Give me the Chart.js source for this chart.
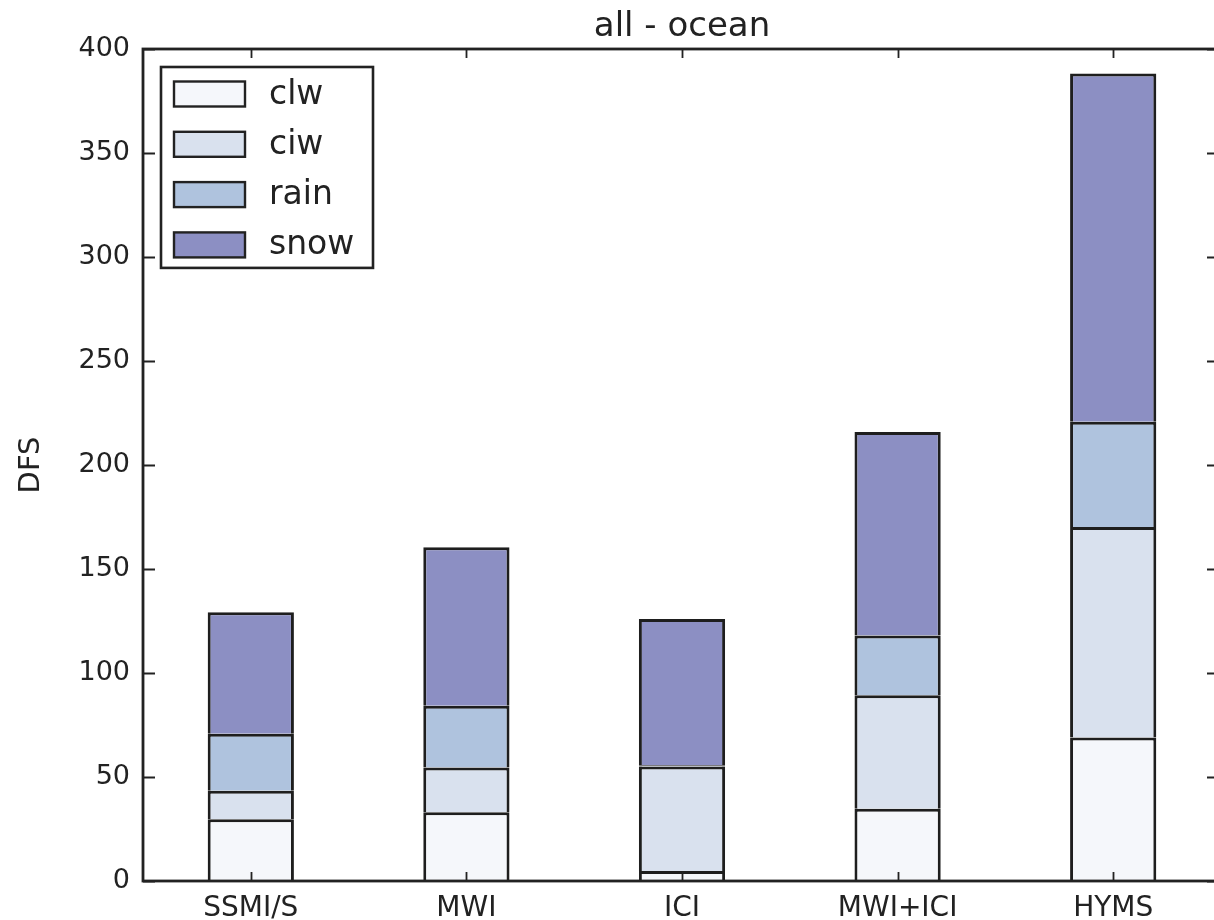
<!DOCTYPE html>
<html>
<head>
<meta charset="utf-8">
<script src="https://cdn.jsdelivr.net/npm/chart.js@4"></script>
<style>
  html, body { margin: 0; padding: 0; background: #ffffff; overflow: hidden; }
  #wrap { width: 1230px; height: 920px; }
</style>
</head>
<body>
<div id="wrap"><canvas id="c" width="1230" height="920"></canvas></div>
<script>
// Degrees of freedom for signal, per hydrometeor type, ocean scenes
const instruments = ['SSMI/S', 'MWI', 'ICI', 'MWI+ICI', 'HYMS'];
const clw  = [29.7, 33.1, 4.8, 34.7, 69.0];
const ciw  = [13.7, 21.5, 50.2, 54.6, 101.2];
const rain = [27.4, 29.7, 0.6, 28.7, 50.6];
const snow = [58.4, 76.1, 70.4, 97.9, 167.4];
const seriesNames = ['clw', 'ciw', 'rain', 'snow'];
const seriesColors = ['#f5f7fb', '#d9e1ee', '#afc3de', '#8c8fc3'];
const yMin = 0, yMax = 400, yStep = 50;
const chartTitle = 'all - ocean';
const yTitle = 'DFS';

const FONT = "'DejaVu Sans', sans-serif";
const INK = '#222222';

// Title centred over the plot frame
const frameTitle = {
  id: 'frameTitle',
  afterDraw(chart) {
    const { ctx, chartArea: a } = chart;
    ctx.save();
    ctx.fillStyle = INK;
    ctx.font = '34px ' + FONT;
    ctx.textAlign = 'center';
    ctx.textBaseline = 'alphabetic';
    ctx.fillText(chartTitle, (a.left + a.right) / 2, a.top - 13);
    ctx.restore();
  }
};

// Box frame with inward ticks on all four sides
const frameTicks = {
  id: 'frameTicks',
  afterDatasetsDraw(chart) {
    const { ctx, chartArea: a, scales } = chart;
    ctx.save();
    ctx.strokeStyle = INK;
    ctx.lineWidth = 1.8;
    ctx.beginPath();
    scales.y.ticks.forEach(t => {
      const y = Math.round(scales.y.getPixelForValue(t.value)) + 0.5;
      ctx.moveTo(a.left, y); ctx.lineTo(a.left + 12, y);
      ctx.moveTo(a.right, y); ctx.lineTo(a.right - 14, y);
    });
    instruments.forEach((_, i) => {
      const x = Math.round(scales.x.getPixelForValue(i)) + 0.5;
      ctx.moveTo(x, a.bottom); ctx.lineTo(x, a.bottom - 9);
      ctx.moveTo(x, a.top); ctx.lineTo(x, a.top + 9);
    });
    ctx.stroke();
    ctx.lineWidth = 2.8;
    ctx.strokeRect(a.left, a.top, a.right - a.left, a.bottom - a.top);
    ctx.restore();
  }
};

// Legend box in the upper-left corner of the plot
const boxLegend = {
  id: 'boxLegend',
  afterDraw(chart) {
    const { ctx, chartArea: a } = chart;
    const ds = chart.data.datasets;
    const x0 = a.left + 18, y0 = a.top + 18;
    const w = 212, rowH = 50.3, firstRow = 27;
    const h = firstRow * 2 + rowH * (ds.length - 1) - 4;
    ctx.save();
    ctx.fillStyle = '#ffffff';
    ctx.fillRect(x0, y0, w, h);
    ctx.strokeStyle = INK;
    ctx.lineWidth = 2.6;
    ctx.strokeRect(x0, y0, w, h);
    ctx.font = '33px ' + FONT;
    ctx.textBaseline = 'middle';
    ctx.textAlign = 'left';
    ds.forEach((d, i) => {
      const cy = y0 + firstRow + rowH * i;
      ctx.fillStyle = d.backgroundColor;
      ctx.fillRect(x0 + 13, cy - 12.5, 71, 25);
      ctx.lineWidth = 2.4;
      ctx.strokeStyle = INK;
      ctx.strokeRect(x0 + 13, cy - 12.5, 71, 25);
      ctx.fillStyle = INK;
      ctx.fillText(d.label, x0 + 108, cy + 1);
    });
    ctx.restore();
  }
};

const seriesValues = [clw, ciw, rain, snow];
const datasets = seriesNames.map((name, i) => ({
  label: name,
  data: seriesValues[i],
  backgroundColor: seriesColors[i],
  borderColor: '#1e1e1e',
  borderWidth: 3,
  categoryPercentage: 0.4,
  barPercentage: 1.0
}));

new Chart(document.getElementById('c'), {
  type: 'bar',
  data: { labels: instruments, datasets },
  options: {
    responsive: false,
    animation: false,
    layout: { padding: { top: 49, right: 9, bottom: 0, left: 0 } },
    plugins: {
      legend: { display: false },
      title: { display: false },
      tooltip: { enabled: false }
    },
    scales: {
      x: {
        stacked: true,
        offset: true,
        grid: { display: false, drawTicks: false },
        border: { display: false },
        ticks: { color: INK, font: { family: FONT, size: 28 }, padding: 11, maxRotation: 0 },
        afterFit(scale) { scale.height = 39; }
      },
      y: {
        stacked: true,
        min: yMin,
        max: yMax,
        grid: { display: false, drawTicks: false },
        border: { display: false },
        ticks: { stepSize: yStep, color: INK, font: { family: FONT, size: 27 }, padding: 13 },
        title: {
          display: true,
          text: yTitle,
          color: INK,
          font: { family: FONT, size: 29 },
          padding: { top: 14, bottom: 0 }
        },
        afterFit(scale) { scale.width = 143; }
      }
    }
  },
  plugins: [frameTicks, boxLegend, frameTitle]
});
</script>
</body>
</html>
